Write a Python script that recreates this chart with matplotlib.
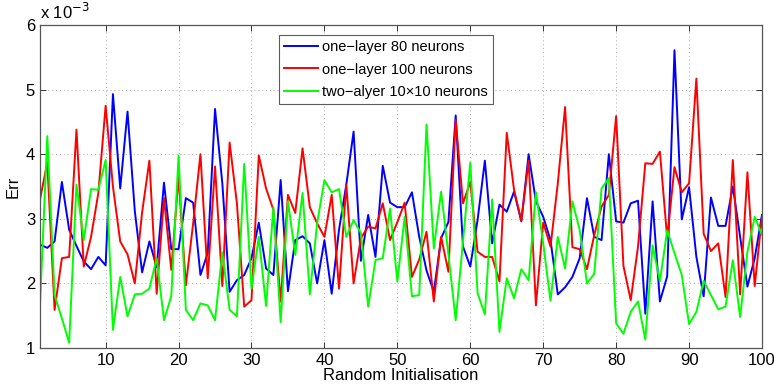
import numpy as np
import matplotlib
matplotlib.use("Agg")
import matplotlib.pyplot as plt
from matplotlib.ticker import FuncFormatter

# Err 值（单位 1e-3），随机初始化序号 1..100
runs = np.arange(1, 101)

err_one80 = [
    2.60, 2.55, 2.65, 3.57, 2.83, 2.58, 2.34, 2.22, 2.41, 2.28,
    4.93, 3.47, 4.66, 3.12, 2.17, 2.65, 2.25, 3.56, 2.53, 2.53,
    3.32, 3.25, 2.13, 2.47, 4.70, 3.55, 1.87, 2.05, 2.13, 2.39,
    2.94, 2.23, 2.13, 3.60, 1.88, 2.67, 2.73, 2.62, 2.00, 2.67,
    1.84, 2.83, 3.53, 4.35, 2.35, 3.06, 2.41, 3.82, 3.25, 3.18,
    3.18, 3.41, 2.72, 2.20, 1.87, 2.70, 2.95, 4.60, 2.57, 2.26,
    2.98, 3.90, 2.62, 3.22, 3.11, 3.42, 2.96, 4.00, 3.27, 3.03,
    2.67, 1.83, 1.94, 2.10, 2.39, 3.32, 2.72, 2.67, 4.00, 2.96,
    2.94, 3.24, 3.28, 1.53, 3.27, 1.72, 2.11, 5.61, 2.99, 3.49,
    2.41, 1.80, 3.33, 2.89, 2.89, 3.50, 2.72, 1.95, 2.39, 3.06,
]

err_one100 = [
    3.30, 3.87, 1.59, 2.39, 2.41, 4.38, 2.26, 2.72, 3.40, 4.75,
    3.50, 2.65, 2.45, 2.00, 3.10, 3.90, 1.84, 3.32, 2.21, 3.65,
    1.97, 2.93, 4.00, 2.08, 3.81, 1.96, 4.18, 3.24, 1.64, 1.74,
    3.98, 3.47, 3.14, 1.72, 3.37, 3.09, 4.09, 3.18, 2.93, 2.72,
    3.37, 1.92, 3.53, 2.00, 2.70, 2.88, 2.85, 3.24, 2.67, 2.95,
    3.25, 2.10, 2.37, 2.80, 1.72, 2.72, 2.18, 4.53, 3.24, 3.57,
    2.49, 2.41, 2.41, 2.03, 4.33, 3.45, 2.97, 3.90, 1.66, 2.94,
    2.57, 3.55, 4.73, 2.56, 2.53, 2.22, 2.75, 3.19, 3.37, 4.59,
    2.27, 1.74, 2.57, 3.86, 3.85, 4.04, 2.70, 3.80, 3.41, 3.55,
    5.17, 2.77, 2.50, 2.62, 1.79, 3.91, 1.83, 3.72, 1.96, 3.04,
]

err_two10x10 = [
    1.66, 4.28, 1.82, 1.46, 1.08, 3.53, 2.67, 3.46, 3.45, 3.91,
    1.28, 2.10, 1.49, 1.83, 1.84, 1.92, 2.39, 1.43, 1.80, 3.98,
    1.59, 1.43, 1.69, 1.66, 1.43, 2.48, 1.59, 1.49, 3.85, 1.92,
    2.72, 1.65, 3.18, 1.40, 3.27, 2.44, 3.40, 1.83, 2.93, 3.60,
    3.41, 3.46, 2.72, 2.98, 2.78, 1.64, 2.36, 2.39, 3.16, 2.03,
    3.03, 1.80, 1.82, 4.46, 2.54, 3.42, 2.45, 1.43, 2.65, 3.87,
    1.85, 1.52, 3.30, 1.25, 2.08, 1.77, 2.22, 2.05, 3.41, 2.62,
    1.73, 2.72, 2.23, 3.27, 2.83, 2.00, 2.15, 3.47, 3.63, 1.38,
    1.22, 1.56, 1.72, 1.13, 2.59, 2.03, 2.82, 2.47, 2.13, 1.37,
    1.56, 2.04, 1.82, 1.60, 1.64, 2.36, 1.48, 2.49, 3.03, 2.75,
]

labels = ["one\u2212layer 80 neurons", "one\u2212layer 100 neurons",
          "two\u2212alyer 10\u00d710 neurons"]
colors = ["#0000ff", "#ff0000", "#00ff00"]

x_ticks = [10, 20, 30, 40, 50, 60, 70, 80, 90, 100]
y_ticks = [1, 2, 3, 4, 5, 6]

plt.rcParams['font.family'] = ['Liberation Sans', 'DejaVu Sans']

fig = plt.figure(figsize=(7.74, 3.86), dpi=100)
ax = fig.add_axes([40 / 774, 1 - 348 / 386, 722 / 774, 323 / 386])

scale = 1e-3
for vals, lab, col in zip([err_one80, err_one100, err_two10x10], labels, colors):
    ax.plot(runs, np.array(vals) * scale, color=col, linewidth=1.4, label=lab)

ax.set_xlim(1, 100)
ax.set_ylim(1 * scale, 6 * scale)
ax.set_xticks(x_ticks)
ax.set_yticks([t * scale for t in y_ticks])
ax.yaxis.set_major_formatter(FuncFormatter(lambda v, _: f"{v / scale:g}"))

ax.grid(True, linestyle=(0, (1, 3)), color="#b0b0b0", linewidth=0.7)
ax.tick_params(direction="in", top=True, right=True, labelsize=12,
               length=4, width=0.7, colors="#333333", labelcolor="black")
for sp in ax.spines.values():
    sp.set_color("#555555")
    sp.set_linewidth(0.9)

ax.set_xlabel("Random Initialisation", fontsize=12, labelpad=0)
ax.set_ylabel("Err", fontsize=12, labelpad=4)
ax.text(0.0, 1.01, "x 10$^{-3}$", transform=ax.transAxes, fontsize=12,
        ha="left", va="bottom")

leg = ax.legend(loc="upper center", bbox_to_anchor=(0.479, 0.97),
                fontsize=10.5, frameon=True, fancybox=False, handlelength=2.3,
                borderpad=0.35, labelspacing=0.6, handletextpad=0.3,
                borderaxespad=0)
leg.get_frame().set_edgecolor("#333333")
leg.get_frame().set_linewidth(0.8)

fig.savefig("out.png", dpi=100)
